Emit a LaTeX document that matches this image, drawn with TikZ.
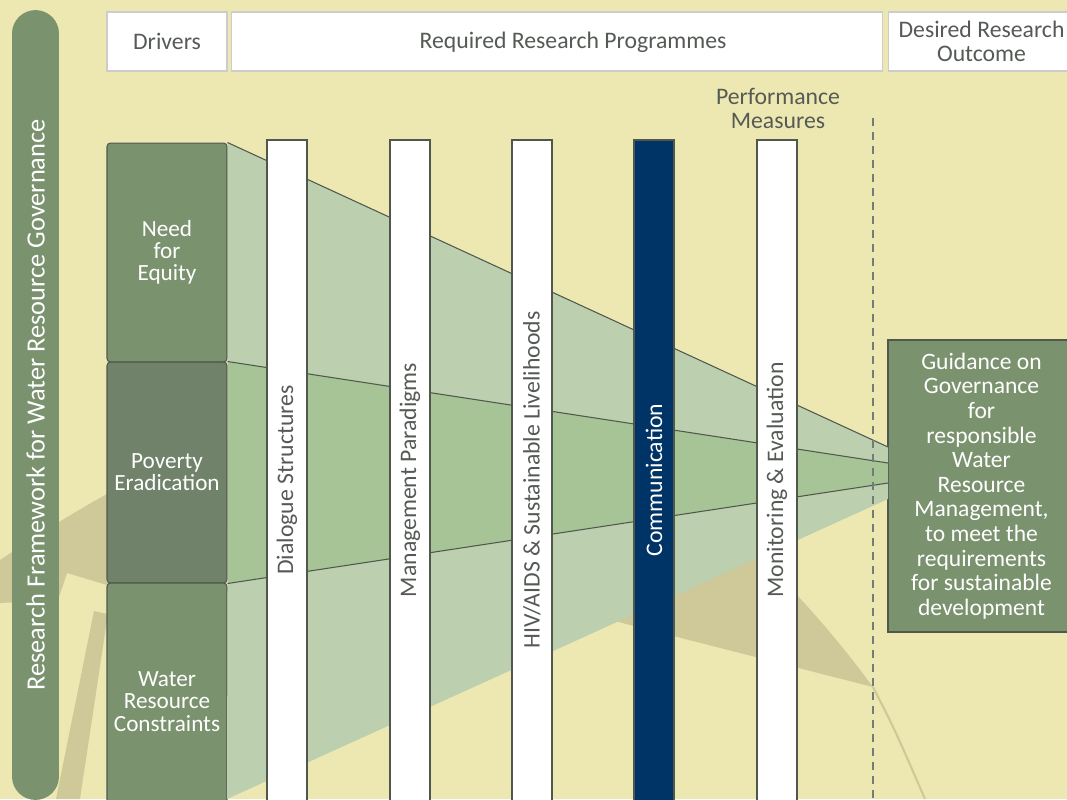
\documentclass[tikz,border=0pt]{standalone}
\usepackage{fontspec}
\setmainfont{Carlito}
\usetikzlibrary{positioning}
\definecolor{canvas}{RGB}{237,232,177}
\definecolor{tanmark}{RGB}{207,200,153}
\definecolor{sage}{RGB}{123,146,110}
\definecolor{sagedark}{RGB}{112,130,106}
\definecolor{bandlight}{RGB}{188,207,174}
\definecolor{bandmid}{RGB}{167,196,151}
\definecolor{navy}{RGB}{0,51,102}
\definecolor{ink}{RGB}{85,90,85}
\definecolor{rim}{RGB}{80,88,78}

\begin{document}
\begin{tikzpicture}[x=0.02cm,y=-0.02cm,
  head/.style={draw=black!20,line width=0.6pt,fill=white,text=ink,
    minimum height=1.18cm,inner sep=0pt,align=center,
    font=\fontsize{13.5}{13.8}\selectfont},
  driver/.style={draw=rim,line width=0.6pt,fill=sage,rounded corners=2pt,
    text=white,minimum width=2.4cm,inner sep=0pt,align=center,
    font=\fontsize{13.2}{12.6}\selectfont},
  prog/.style={draw=rim,line width=0.7pt,fill=white,text=ink,rotate=90,
    minimum width=13.6cm,minimum height=0.8cm,inner sep=0pt,
    font=\fontsize{13.5}{13.5}\selectfont},
  seam/.style={draw=rim,line width=0.6pt},
  note/.style={text=ink,align=center,inner sep=0pt,
    font=\fontsize{13.5}{13.6}\selectfont}]
 \useasboundingbox[fill=canvas] (0,0) rectangle (1067,799);
 \fill[tanmark] (0,560) .. controls (120,480) and (230,420) .. (380,410)
   .. controls (560,400) and (720,480) .. (873,687)
   -- (227,522) -- (107,585) -- (67,573) -- (58,600) -- (0,603) -- cycle;
 \fill[tanmark] (94,611) -- (107,614) -- (107,620) -- (80,799) -- (56,799) -- cycle;
 \draw[tanmark,line width=1.2pt] (873,687) .. controls (895,730) .. (925,799);
 \node[driver,minimum height=4.38cm] (need) at (167,252.5) {Need\\for\\Equity};
 \node[driver,fill=sagedark,minimum height=4.42cm] (pov) at (167,472.5) {Poverty\\Eradication};
 \node[driver,minimum height=4.74cm] (wat) at (167,701.5) {Water\\Resource\\Constraints};
 \node[draw=rim,line width=0.7pt,fill=sage,text=white,minimum width=3.74cm,
   minimum height=5.84cm,inner sep=0pt,align=center,
   font=\fontsize{13.4}{14}\selectfont] (out) at (981.5,486)
   {Guidance on\\Governance\\for\\responsible\\Water\\Resource\\Management,\\
    to meet the\\requirements\\for sustainable\\development};
 \coordinate (f1) at (888,447);
 \coordinate (f2) at (888,463);
 \coordinate (f3) at (888,483);
 \coordinate (f4) at (888,499);
 \coordinate (d4) at (227,799);
 \fill[bandlight] (need.north east) -- (f1) -- (f2) -- (pov.north east) -- cycle;
 \fill[bandmid] (pov.north east) -- (f2) -- (f3) -- (pov.south east) -- cycle;
 \fill[bandlight] (pov.south east) -- (f3) -- (f4) -- (d4) -- cycle;
 \draw[seam] (need.north east) -- (f1);
 \draw[seam] (pov.north east) -- (f2);
 \draw[seam] (pov.south east) -- (f3);
 \node[prog] (dia) at (287,480) {Dialogue Structures};
 \node[prog] (man) at (410,480) {Management Paradigms};
 \node[prog] (hiv) at (532,480) {HIV/AIDS \& Sustainable Livelihoods};
 \node[prog,fill=navy,text=white] (com) at (654,480) {Communication};
 \node[prog] (mon) at (777,480) {Monitoring \& Evaluation};
 \coordinate (cut) at (873,118);
 \coordinate (cutend) at (873,799);
 \draw[ink!80,line width=0.6pt,dash pattern=on 0.16cm off 0.12cm] (cut) -- (cutend);
 \node[note] (perf) at (778,108) {Performance\\Measures};
 \node[head,minimum width=2.4cm] (drv) at (167,41.5) {Drivers};
 \node[head,minimum width=13.04cm] (req) at (557,41.5) {};
 \node[note] (reqtext) at (573,42) {Required Research Programmes};
 \node[head,minimum width=3.74cm] (des) at (981.5,41.5) {Desired Research\\Outcome};
 \node[fill=sage,rotate=90,rounded corners=0.47cm,minimum width=15.8cm,
   minimum height=0.94cm,inner sep=0pt,text=white,
   font=\fontsize{15}{15}\selectfont] (spine) at (35.5,405)
   {Research Framework for Water Resource Governance};
\end{tikzpicture}
\end{document}
